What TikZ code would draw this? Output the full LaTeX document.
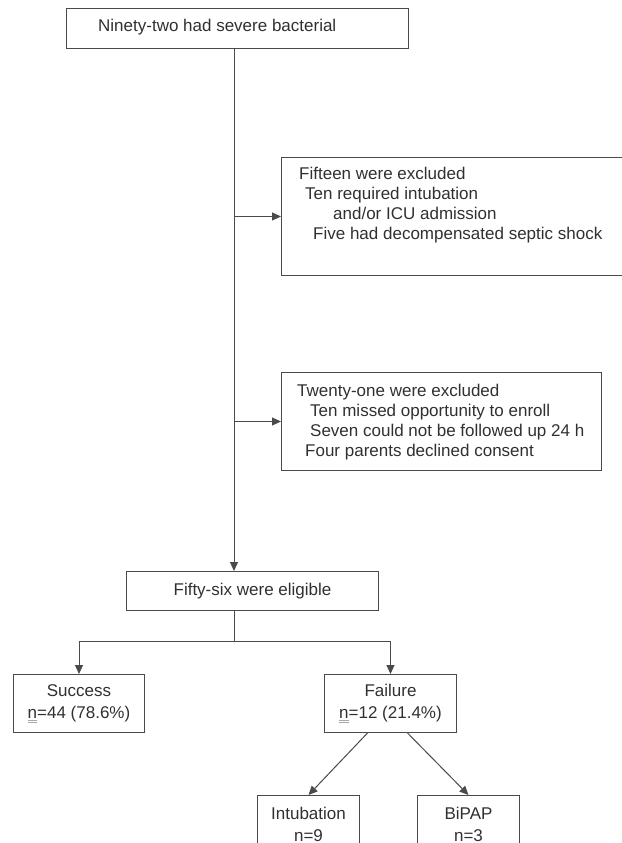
\documentclass[tikz,border=0pt]{standalone}
\usepackage{fontspec}
\setmainfont{Liberation Sans}
\usetikzlibrary{positioning,arrows.meta}
\definecolor{linegray}{HTML}{4A4A4A}
\definecolor{textgray}{HTML}{303030}
\definecolor{ulgray}{HTML}{A8A8A8}
% n with the grey double underline
\newcommand{\nmark}{\mbox{\rlap{\textcolor{ulgray}{\rule[-4.2pt]{9.4pt}{0.9pt}}}\rlap{\textcolor{ulgray}{\rule[-2.4pt]{9.4pt}{0.9pt}}}n}}

\begin{document}
\begin{tikzpicture}[x=1pt,y=-1pt,
    box/.style={draw=linegray,line width=1pt,anchor=north west,inner sep=0pt,
      text=textgray,align=center,font=\fontsize{17}{22}\selectfont},
    txt/.style={anchor=base west,inner sep=0pt,text=textgray,font=\fontsize{17}{20}\selectfont},
    arr/.style={draw=linegray,line width=1pt,-{Triangle[length=9pt,width=8pt]}}]
    \useasboundingbox (0,0) rectangle (621,843);
    % boxes
    \node[box,minimum width=342pt,minimum height=40pt] (start) at (66,8) {};
    \node[box,minimum width=360pt,minimum height=118pt] (excla) at (281,157) {};
    \node[box,minimum width=320pt,minimum height=98pt] (exclb) at (281,372) {};
    \node[box,minimum width=252pt,minimum height=39pt] (elig) at (126,571) {Fifty-six were eligible};
    \node[box,minimum width=131pt,minimum height=58pt] (succ) at (13,674) {Success\\\nmark=44 (78.6\%)};
    \node[box,minimum width=132pt,minimum height=58pt] (fail) at (324,674) {Failure\\\nmark=12 (21.4\%)};
    \node[box,minimum width=102pt,minimum height=57pt] (intub) at (257,795) {Intubation\\n=9};
    \node[box,minimum width=102pt,minimum height=57pt] (bipap) at (417,795) {BiPAP\\n=3};
    % texts
    \node[txt] (starttxt) at (98,32) {Ninety-two had severe bacterial};
    \node[txt] (exclaa) at (299,179) {Fifteen were excluded};
    \node[txt] (exclab) at (305,199) {Ten required intubation};
    \node[txt] (exclac) at (333,219) {and/or ICU admission};
    \node[txt] (exclad) at (313,239) {Five had decompensated septic shock};
    \node[txt] (exclba) at (297,396) {Twenty-one were excluded};
    \node[txt] (exclbb) at (310,416) {Ten missed opportunity to enroll};
    \node[txt] (exclbc) at (310,436) {Seven could not be followed up 24 h};
    \node[txt] (exclbd) at (305,456) {Four parents declined consent};
    % connectors
    \coordinate (spine) at (234,48);
    \coordinate (split) at (234,641);
    \draw[arr] (start.south -| spine) -- (elig.north -| spine);
    \draw[arr] (spine |- excla.west) -- (excla.west);
    \draw[arr] (spine |- exclb.west) -- (exclb.west);
    \draw[draw=linegray,line width=1pt] (elig.south -| split) -- (split);
    \draw[arr] (split) -| (succ.north);
    \draw[arr] (split) -| (fail.north);
    \draw[arr] ([xshift=-23pt]fail.south) -- (intub.north);
    \draw[arr] ([xshift=17pt]fail.south) -- (bipap.north);
\end{tikzpicture}
\end{document}
